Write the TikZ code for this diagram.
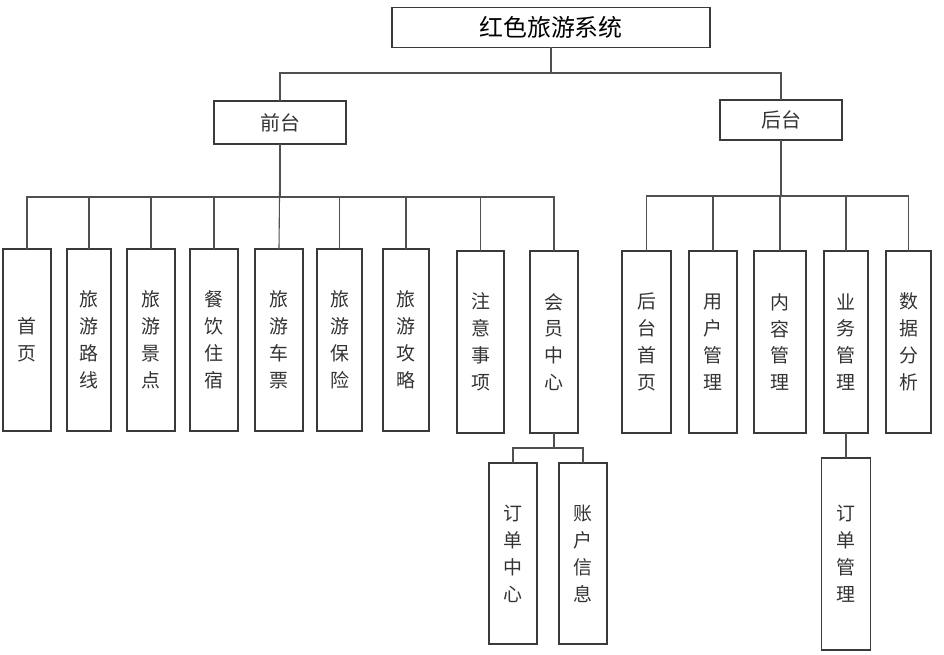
\documentclass[tikz,border=0pt]{standalone}
\usepackage{fontspec}
\setmainfont{Noto Sans CJK SC}
\definecolor{boxgray}{HTML}{3A3A3A}
\definecolor{linegray}{HTML}{505050}
\definecolor{txtgray}{HTML}{333333}

\begin{document}
\begin{tikzpicture}[x=1bp, y=-1bp,
  every node/.style={draw=boxgray, line width=1.1bp, inner sep=0pt, outer sep=0pt, text=txtgray},
  head/.style={font=\fontsize{20}{24}\selectfont},
  leaf/.style={minimum width=48bp, minimum height=182bp, align=center, font=\fontsize{19}{27}\selectfont},
  link/.style={draw=linegray, line width=1.1bp}]
\useasboundingbox (0,0) rectangle (944,655);

% top levels
\node[head, minimum width=318bp, minimum height=40bp, text=black, font=\fontsize{24}{28}\selectfont] (root) at (551,27.5) {红色旅游系统};
\node[head, minimum width=132bp, minimum height=43bp] (front) at (280,122.5) {前台};
\node[head, minimum width=122bp, minimum height=40bp] (back) at (781,120) {后台};

% front side
\node[leaf] (home) at (27,340) {首\\页};
\node[leaf, minimum width=44bp] (route) at (89,340) {旅\\游\\路\\线};
\node[leaf] (spot) at (151,340) {旅\\游\\景\\点};
\node[leaf] (stay) at (214,340) {餐\\饮\\住\\宿};
\node[leaf] (ticket) at (279,340) {旅\\游\\车\\票};
\node[leaf, minimum width=45bp] (insure) at (339.5,340) {旅\\游\\保\\险};
\node[leaf, minimum width=46bp] (guide) at (406,340) {旅\\游\\攻\\略};
\node[leaf, minimum width=47bp] (notice) at (480.5,342) {注\\意\\事\\项};
\node[leaf] (member) at (554,342) {会\\员\\中\\心};
\node[leaf, minimum height=181bp] (order) at (513,553.5) {订\\单\\中\\心};
\node[leaf, minimum height=181bp] (account) at (583,553.5) {账\\户\\信\\息};

% back side
\node[leaf, minimum width=49bp] (bhome) at (646.5,342) {后\\台\\首\\页};
\node[leaf] (user) at (713,342) {用\\户\\管\\理};
\node[leaf, minimum width=52bp] (content) at (780,342) {内\\容\\管\\理};
\node[leaf, minimum width=44bp] (business) at (846,342) {业\\务\\管\\理};
\node[leaf, minimum width=45bp] (data) at (908.5,342) {数\\据\\分\\析};
\node[leaf, minimum width=49bp, minimum height=192bp] (bizorder) at (846,554) {订\\单\\管\\理};

% connectors
\draw[link] (root.south) -- ++(0,25.5) -| (front.north);
\draw[link] (root.south) -- ++(0,25.5) -| (back.north);

\draw[link] (front.south) -- ++(0,53) -| (home.north);
\draw[link] (front.south) -- ++(0,53) -| (route.north);
\draw[link] (front.south) -- ++(0,53) -| (spot.north);
\draw[link] (front.south) -- ++(0,53) -| (stay.north);
\draw[link] (front.south) -- (ticket.north);
\draw[link] (front.south) -- ++(0,53) -| (insure.north);
\draw[link] (front.south) -- ++(0,53) -| (guide.north);
\draw[link] (front.south) -- ++(0,53) -| (notice.north);
\draw[link] (front.south) -- ++(0,53) -| (member.north);

\draw[link] (member.south) -- ++(0,15) -| (order.north);
\draw[link] (member.south) -- ++(0,15) -| (account.north);

\draw[link] (back.south) -- ++(0,56) -| (bhome.north);
\draw[link] (back.south) -- ++(0,56) -| (user.north);
\draw[link] (back.south) -- ++(0,56) -| (content.north);
\draw[link] (back.south) -- ++(0,56) -| (business.north);
\draw[link] (back.south) -- ++(0,56) -| (data.north);

\draw[link] (business.south) -- (bizorder.north);
\end{tikzpicture}
\end{document}
